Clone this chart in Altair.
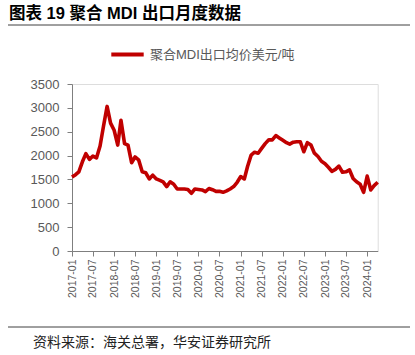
import altair as alt
import pandas as pd

title_text = "图表 19 聚合 MDI 出口月度数据"
source_text = "资料来源：海关总署，华安证券研究所"
series_name = "聚合MDI出口均价美元/吨"

start_month = "2017-01"
values = [
    1550, 1600, 1660, 1870, 2040, 1920, 1990, 1950, 2200, 2620,
    3030, 2680, 2530, 2220, 2740, 2250, 2220, 1850, 1970, 1910,
    1660, 1640, 1510, 1590, 1510, 1480, 1450, 1350, 1450, 1400,
    1300, 1300, 1300, 1290, 1210, 1300, 1290, 1280, 1245, 1310,
    1285, 1250, 1250, 1230, 1260, 1300, 1350, 1440, 1560, 1510,
    1770, 2010, 2070, 2050, 2150, 2250, 2330, 2330, 2420, 2370,
    2320, 2270, 2240, 2280, 2290, 2290, 2080, 2270, 2220, 2050,
    1980, 1880, 1830, 1750, 1670, 1710, 1780, 1650, 1660, 1700,
    1520, 1450, 1400, 1230, 1570, 1280, 1370, 1440,
]
y_ticks = [0, 500, 1000, 1500, 2000, 2500, 3000, 3500]

months = pd.date_range(start_month + "-01", periods=len(values), freq="MS")
df = pd.DataFrame({
    "date": [m.strftime("%Y-%m-%dT00:00:00") for m in months],
    "value": values,
    "series": series_name,
})

LATIN_CJK = "Liberation Sans, Noto Sans CJK SC"
GRAY = "#595959"

line = alt.Chart(df).mark_line(strokeWidth=3.6, strokeJoin="round").encode(
    x=alt.X(
        "date:T",
        scale=alt.Scale(domain=[months[0].strftime("%Y-%m-%dT00:00:00"),
                                months[-1].strftime("%Y-%m-%dT00:00:00")]),
        axis=alt.Axis(
            title=None, format="%Y-%m", labelAngle=-90,
            tickCount={"interval": "month", "step": 6},
            labelFontSize=10.5, labelColor=GRAY, labelFont="Liberation Sans",
            domainColor="#7f7f7f", tickColor="#7f7f7f", tickSize=5,
            labelPadding=3, grid=False, labelOverlap=False, labelFlush=False,
            labelBaseline="middle", labelAlign="right",
        ),
    ),
    y=alt.Y(
        "value:Q",
        scale=alt.Scale(domain=[0, 3500]),
        axis=alt.Axis(
            title=None, values=y_ticks, format="d", labelFontSize=13,
            labelColor=GRAY, labelFont="Liberation Sans",
            domainColor="#7f7f7f", tickColor="#7f7f7f", tickSize=5,
            labelPadding=8, grid=False,
        ),
    ),
    color=alt.Color(
        "series:N",
        scale=alt.Scale(range=["#C00000"]),
        legend=alt.Legend(
            title=None, orient="none", legendX=37, legendY=-48,
            symbolType="stroke", symbolSize=1050, symbolStrokeWidth=4,
            labelFontSize=13, labelColor=GRAY, labelFont=LATIN_CJK,
            labelOffset=4,
        ),
    ),
)

one = pd.DataFrame({"k": [0]})

title = alt.Chart(one).mark_text(
    text=title_text, align="left", baseline="middle", fontSize=16.5,
    fontWeight="bold", font=LATIN_CJK, color="#000000",
).encode(x=alt.value(-63), y=alt.value(-70))

title_rule = alt.Chart(one).mark_rule(color="#404040", strokeWidth=1).encode(
    x=alt.value(-64), x2=alt.value(338), y=alt.value(-59)
)

footer_rule = alt.Chart(one).mark_rule(color="#404040", strokeWidth=1).encode(
    x=alt.value(-64), x2=alt.value(338), y=alt.value(243)
)

footer = alt.Chart(one).mark_text(
    text=source_text, align="left", baseline="middle", fontSize=14,
    font="Noto Sans CJK SC", color="#222222",
).encode(x=alt.value(-39), y=alt.value(259))

chart = alt.layer(line, title, title_rule, footer_rule, footer).properties(
    width=305.7, height=167,
    autosize="none",
    padding={"left": 72, "top": 84, "right": 37.3, "bottom": 104},
).configure_view(stroke=None).configure(background="white")

chart.save("out.html", embed_options={"renderer": "svg", "actions": False})
